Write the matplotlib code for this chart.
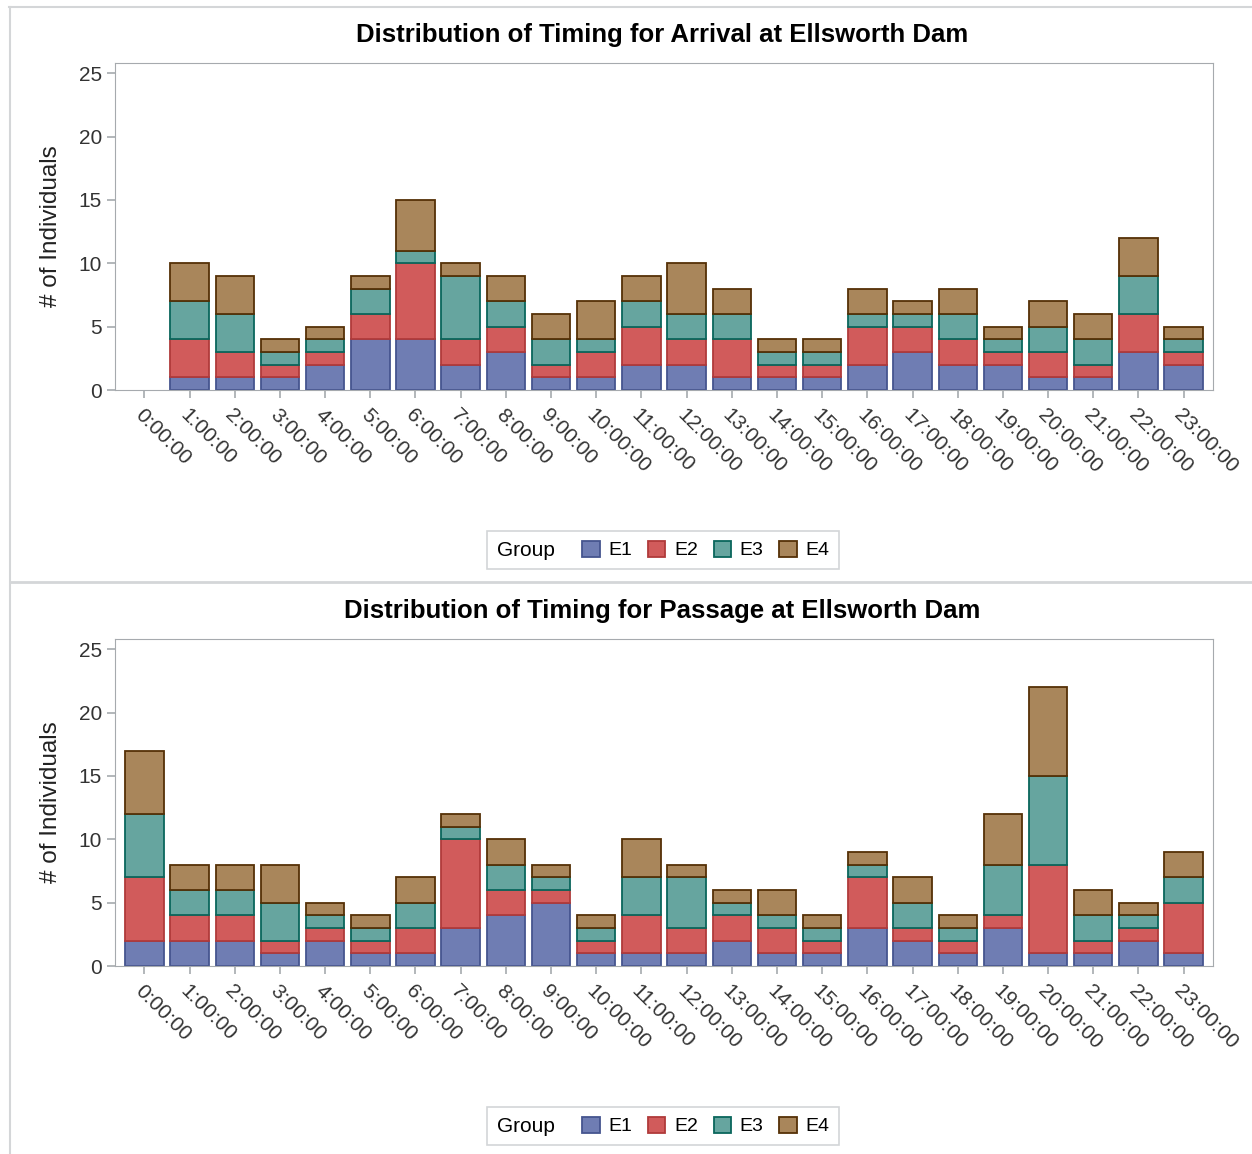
import numpy as np
import matplotlib
matplotlib.use("Agg")
import matplotlib.pyplot as plt
from matplotlib.lines import Line2D
from matplotlib.offsetbox import HPacker

plt.rcParams['font.family'] = ['Liberation Sans', 'DejaVu Sans']

hours = [f"{h}:00:00" for h in range(24)]
groups = ["E1", "E2", "E3", "E4"]

# arrival counts per hour, by group
arr_e1 = [0, 1, 1, 1, 2, 4, 4, 2, 3, 1, 1, 2, 2, 1, 1, 1, 2, 3, 2, 2, 1, 1, 3, 2]
arr_e2 = [0, 3, 2, 1, 1, 2, 6, 2, 2, 1, 2, 3, 2, 3, 1, 1, 3, 2, 2, 1, 2, 1, 3, 1]
arr_e3 = [0, 3, 3, 1, 1, 2, 1, 5, 2, 2, 1, 2, 2, 2, 1, 1, 1, 1, 2, 1, 2, 2, 3, 1]
arr_e4 = [0, 3, 3, 1, 1, 1, 4, 1, 2, 2, 3, 2, 4, 2, 1, 1, 2, 1, 2, 1, 2, 2, 3, 1]

# passage counts per hour, by group
pas_e1 = [2, 2, 2, 1, 2, 1, 1, 3, 4, 5, 1, 1, 1, 2, 1, 1, 3, 2, 1, 3, 1, 1, 2, 1]
pas_e2 = [5, 2, 2, 1, 1, 1, 2, 7, 2, 1, 1, 3, 2, 2, 2, 1, 4, 1, 1, 1, 7, 1, 1, 4]
pas_e3 = [5, 2, 2, 3, 1, 1, 2, 1, 2, 1, 1, 3, 4, 1, 1, 1, 1, 2, 1, 4, 7, 2, 1, 2]
pas_e4 = [5, 2, 2, 3, 1, 1, 2, 1, 2, 1, 1, 3, 1, 1, 2, 1, 1, 2, 1, 4, 7, 2, 1, 2]

fills = ["#6F7DB3", "#D15B5B", "#66A59F", "#A9865B"]
edges = ["#45558F", "#B03A3A", "#0A665C", "#553006"]

W, H = 1252, 1154
fig = plt.figure(figsize=(W / 100, H / 100), dpi=100)

# outer frame lines and separator between the two panels
fig.add_artist(Line2D([9 / W, 1], [1 - 7 / H, 1 - 7 / H], color="#D4D6D8", lw=1.5))
fig.add_artist(Line2D([10 / W, 10 / W], [0, 1 - 7 / H], color="#D4D6D8", lw=1.5))
fig.add_artist(Line2D([10 / W, 1], [1 - 582 / H, 1 - 582 / H], color="#D4D6D8", lw=2))


def panel(top, title, data):
    ax = fig.add_axes([115 / W, 1 - (top + 327) / H, 1098 / W, 327 / H])
    x = np.arange(len(hours))
    bottom = np.zeros(len(hours))
    handles = []
    for vals, g, fc, ec in zip(data, groups, fills, edges):
        vals = np.array(vals, dtype=float)
        m = vals > 0
        b = ax.bar(x[m], vals[m], width=0.85, bottom=bottom[m], facecolor=fc, edgecolor=ec,
                   linewidth=1.3, label=g)
        handles.append(b)
        bottom += vals
    ax.set_xlim(-0.65, 23.65)
    ax.set_ylim(0, 25.8)
    ax.set_yticks([0, 5, 10, 15, 20, 25])
    ax.set_xticks(x)
    ax.set_xticklabels(hours, rotation=-45, ha='left', va='top', rotation_mode='anchor')
    for s in ax.spines.values():
        s.set_color("#A6AAAE")
    ax.tick_params(colors="#A6AAAE", labelcolor="#333333", labelsize=15, length=6, width=1.2)
    ax.tick_params(axis='x', pad=5)
    ax.set_ylabel("# of Individuals", fontsize=17.5, color="#222222", labelpad=12)
    fig.text(662 / W, 1 - (top - 28) / H, title, ha='center', va='center',
             fontsize=18.5, fontweight='bold', color="#000000")

    fs = 14
    leg = fig.legend(handles=handles, labels=groups, ncol=4, title="Group", loc='center',
                     bbox_to_anchor=(663 / W, 1 - (top + 487) / H), fontsize=fs,
                     title_fontsize=15, frameon=True, fancybox=False, edgecolor="#C8CBCE",
                     handlelength=0.9, handleheight=0.9, handletextpad=0.45, columnspacing=0.8,
                     borderpad=0.35)
    leg.get_frame().set_linewidth(1.2)
    # put title to the left of the entries
    box = HPacker(pad=leg.borderpad * fs * 1.39, sep=20,
                  align='center', children=[leg._legend_title_box, leg._legend_handle_box])
    box.set_figure(fig)
    leg._legend_box = box
    box.set_offset(leg._findoffset)
    return ax


panel(63, "Distribution of Timing for Arrival at Ellsworth Dam", [arr_e1, arr_e2, arr_e3, arr_e4])
panel(639, "Distribution of Timing for Passage at Ellsworth Dam", [pas_e1, pas_e2, pas_e3, pas_e4])

fig.savefig("out.png", dpi=100)
